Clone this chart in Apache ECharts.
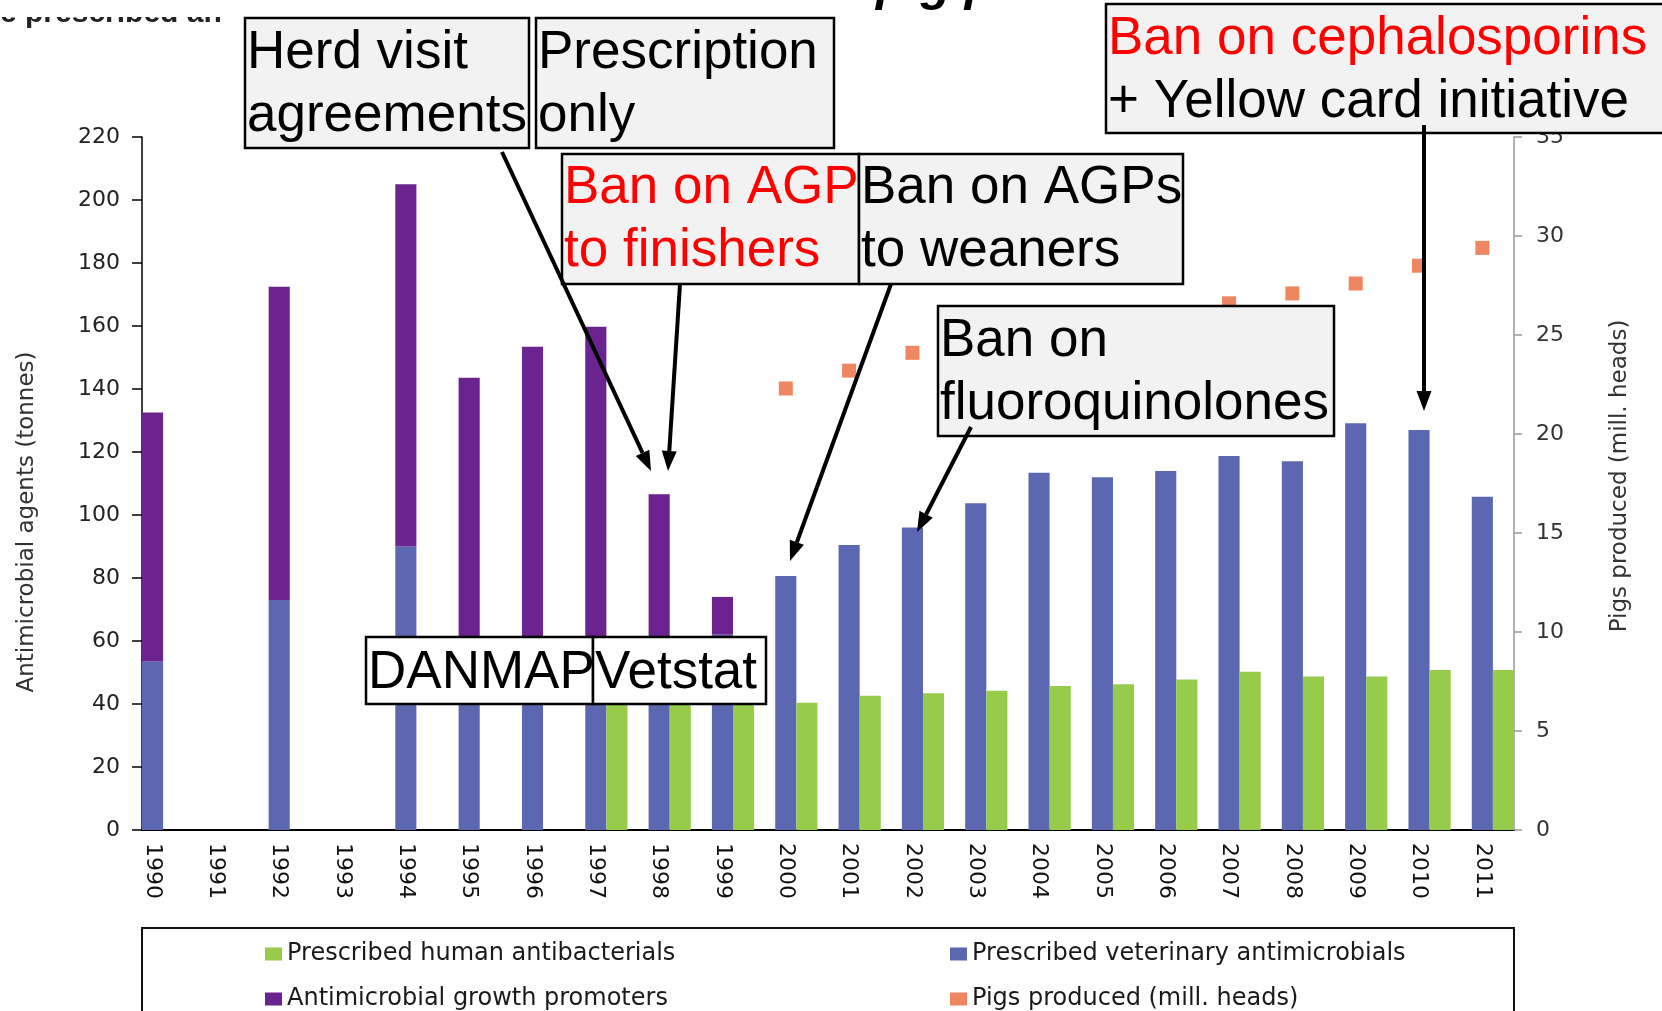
<!DOCTYPE html>
<html>
<head>
<meta charset="utf-8">
<script src="https://cdn.jsdelivr.net/npm/echarts/dist/echarts.min.js"></script>
<style>
  html, body { margin: 0; padding: 0; background: #fff; }
  #main { width: 1662px; height: 1011px; }
</style>
</head>
<body>
<div id="main"></div>
<script>
// values, one entry per year
var years = ['1990', '1991', '1992', '1993', '1994', '1995', '1996', '1997', '1998', '1999', '2000',
             '2001', '2002', '2003', '2004', '2005', '2006', '2007', '2008', '2009', '2010', '2011'];
var vetAntimicrobials = [53.5, null, 73, null, 90, 48, 48, 53, 57, 62, 80.6,
                         90.5, 96, 103.7, 113.4, 112, 114, 118.7, 117.1, 129.1, 127, 105.8];
var growthPromoters = [79, null, 99.5, null, 115, 95.6, 105.4, 106.8, 49.6, 12, null,
                       null, null, null, null, null, null, null, null, null, null, null];
var humanAntibacterials = [null, null, null, null, null, null, null, 41, 41, 39.7, 40.4,
                           42.6, 43.4, 44.2, 45.7, 46.3, 47.8, 50.2, 48.7, 48.7, 50.8, 50.8];
var pigsProduced = [null, null, null, null, null, null, null, null, null, null, 22.3,
                    23.2, 24.1, 24.6, 25.2, 25.7, 25.9, 26.6, 27.1, 27.6, 28.5, 29.4];

var BLUE = '#5b68b1', PURPLE = '#6b2390', GREEN = '#96cc4a', ORANGE = '#e8683a';
var CHART_FONT = 'DejaVu Sans';
var NOTE_FONT = '"Liberation Sans", Arial, sans-serif';

// each year takes three slots on the axis: veterinary (+AGP), human, empty
var slots = [], vetData = [], agpData = [], humData = [], pigData = [];
for (var i = 0; i < years.length; i++) {
    slots.push(years[i]);
    vetData.push(vetAntimicrobials[i]);
    agpData.push(growthPromoters[i]);
    humData.push(null);
    pigData.push(pigsProduced[i]);

    slots.push(years[i] + '_h');
    vetData.push(null);
    agpData.push(null);
    humData.push(humanAntibacterials[i]);
    pigData.push(null);

    if (i < years.length - 1) {
        slots.push(years[i] + '_x');
        vetData.push(null);
        agpData.push(null);
        humData.push(null);
        pigData.push(null);
    }
}

// put graphic elements on their own layer above the series
function onTop(el, z) {
    el.zlevel = 1;
    el.z = z;
    if (el.children) {
        for (var k = 0; k < el.children.length; k++) onTop(el.children[k], z);
    }
    return el;
}

// annotation box: rect with one or two lines of text
function noteBox(x, y, w, h, lines, fill) {
    var children = [{
        type: 'rect',
        shape: { x: x, y: y, width: w, height: h },
        style: { fill: fill || '#f2f2f2', stroke: '#000', lineWidth: 2.5 }
    }];
    for (var k = 0; k < lines.length; k++) {
        children.push({
            type: 'text',
            x: x + 2,
            y: lines[k].base - 16.4,
            style: {
                text: lines[k].text,
                fill: lines[k].color || '#000',
                font: '53px ' + NOTE_FONT,
                verticalAlign: 'middle',
                align: 'left'
            }
        });
    }
    return onTop({ type: 'group', children: children }, 10);
}

function arrow(x1, y1, x2, y2) {
    var ang = Math.atan2(y2 - y1, x2 - x1);
    var len = 20, half = 7.5;
    var bx = x2 - len * Math.cos(ang), by = y2 - len * Math.sin(ang);
    return onTop({
        type: 'group',
        children: [{
            type: 'line',
            shape: { x1: x1, y1: y1, x2: bx, y2: by },
            style: { stroke: '#000', lineWidth: 4 }
        }, {
            type: 'polygon',
            shape: { points: [[x2, y2],
                [bx + half * Math.sin(ang), by - half * Math.cos(ang)],
                [bx - half * Math.sin(ang), by + half * Math.cos(ang)]] },
            style: { fill: '#000' }
        }]
    }, 20);
}

var graphics = [
    // cut-off slide title behind the chart
    onTop({ type: 'text', x: 0, y: 14, style: { text: 'e prescribed an', fill: '#222',
        font: 'bold 30px ' + NOTE_FONT, verticalAlign: 'middle' } }, 1),
    onTop({ type: 'rect', shape: { x: 0, y: 0, width: 244, height: 17 }, style: { fill: '#fff' } }, 2),
    onTop({ type: 'text', x: 876, y: -14, style: { text: 'pig production', fill: '#000',
        font: 'italic bold 50px ' + NOTE_FONT, verticalAlign: 'middle' } }, 1),

    noteBox(245, 18, 284, 130, [{ text: 'Herd visit', base: 70 }, { text: 'agreements', base: 133 }]),
    noteBox(536, 18, 298, 130, [{ text: 'Prescription', base: 70 }, { text: 'only', base: 133 }]),
    noteBox(562, 154, 297, 130, [{ text: 'Ban on AGP', base: 205, color: '#ff0000' },
                                 { text: 'to finishers', base: 268, color: '#ff0000' }]),
    noteBox(859, 154, 324, 130, [{ text: 'Ban on AGPs', base: 205 }, { text: 'to weaners', base: 268 }]),
    noteBox(938, 306, 396, 130, [{ text: 'Ban on', base: 358 }, { text: 'fluoroquinolones', base: 421 }]),
    noteBox(1106, 4, 570, 129, [{ text: 'Ban on cephalosporins', base: 56, color: '#ff0000' },
                                { text: '+ Yellow card initiative', base: 119 }]),
    noteBox(366, 637, 227, 67, [{ text: 'DANMAP', base: 690 }], '#fff'),
    noteBox(593, 637, 173, 67, [{ text: 'Vetstat', base: 690 }], '#fff'),

    arrow(502, 152, 651, 471),
    arrow(680, 284, 668, 471),
    arrow(891, 284, 790, 561),
    arrow(971, 427, 917, 532),
    arrow(1424, 125, 1424, 411),

    // axis titles
    onTop({ type: 'text', x: 27, y: 522, rotation: Math.PI / 2, style: {
        text: 'Antimicrobial agents (tonnes)', fill: '#333', font: '23px ' + CHART_FONT,
        align: 'center', verticalAlign: 'middle' } }, 1),
    onTop({ type: 'text', x: 1620, y: 476, rotation: Math.PI / 2, style: {
        text: 'Pigs produced (mill. heads)', fill: '#333', font: '23px ' + CHART_FONT,
        align: 'center', verticalAlign: 'middle' } }, 1),

    // legend frame
    onTop({ type: 'rect', shape: { x: 142, y: 928, width: 1372, height: 120 },
      style: { fill: 'none', stroke: '#111', lineWidth: 2 } }, 1)
];

function legendItem(name, left, top) {
    return {
        left: left, top: top, padding: 0,
        itemWidth: 17, itemHeight: 13, icon: 'rect', selectedMode: false,
        textStyle: { fontFamily: CHART_FONT, fontSize: 24, color: '#1a1a1a', lineHeight: 26 },
        data: [name]
    };
}

var option = {
    backgroundColor: '#fff',
    animation: false,
    grid: { left: 142, right: 148, top: 137, bottom: 181 },
    legend: [
        legendItem('Prescribed human antibacterials', 265, 941),
        legendItem('Antimicrobial growth promoters', 265, 986),
        legendItem('Prescribed veterinary antimicrobials', 950, 941),
        legendItem('Pigs produced (mill. heads)', 950, 986)
    ],
    xAxis: {
        type: 'category',
        data: slots,
        boundaryGap: true,
        axisLine: { lineStyle: { color: '#000', width: 2 } },
        axisTick: { interval: 0, length: 10, lineStyle: { color: '#000', width: 1.5 } },
        axisLabel: {
            interval: 0, rotate: -90, margin: 13,
            fontFamily: CHART_FONT, fontSize: 22, color: '#111',
            formatter: function (v) { return v.indexOf('_') >= 0 ? '' : v; }
        }
    },
    yAxis: [{
        type: 'value', min: 0, max: 220, interval: 20,
        axisLine: { show: true, lineStyle: { color: '#000', width: 1.5 } },
        axisTick: { show: true, length: 10, lineStyle: { color: '#000', width: 1.5 } },
        splitLine: { show: false },
        axisLabel: { margin: 22, fontFamily: CHART_FONT, fontSize: 22, color: '#222' }
    }, {
        type: 'value', position: 'right', min: 0, max: 35, interval: 5,
        axisLine: { show: true, lineStyle: { color: '#999', width: 1.5 } },
        axisTick: { show: true, length: 8, lineStyle: { color: '#999', width: 1.5 } },
        splitLine: { show: false },
        axisLabel: { margin: 22, fontFamily: CHART_FONT, fontSize: 22, color: '#333' }
    }],
    series: [{
        name: 'Prescribed veterinary antimicrobials',
        type: 'bar', stack: 'a', barCategoryGap: '0%',
        itemStyle: { color: BLUE },
        data: vetData
    }, {
        name: 'Antimicrobial growth promoters',
        type: 'bar', stack: 'a', barCategoryGap: '0%',
        itemStyle: { color: PURPLE },
        data: agpData
    }, {
        name: 'Prescribed human antibacterials',
        type: 'bar', stack: 'a', barCategoryGap: '0%',
        itemStyle: { color: GREEN },
        data: humData
    }, {
        name: 'Pigs produced (mill. heads)',
        type: 'scatter', yAxisIndex: 1,
        symbol: 'rect', symbolSize: 14,
        itemStyle: { color: ORANGE },
        data: pigData
    }],
    graphic: { elements: graphics }
};

var chart = echarts.init(document.getElementById('main'));
chart.setOption(option);
</script>
</body>
</html>
